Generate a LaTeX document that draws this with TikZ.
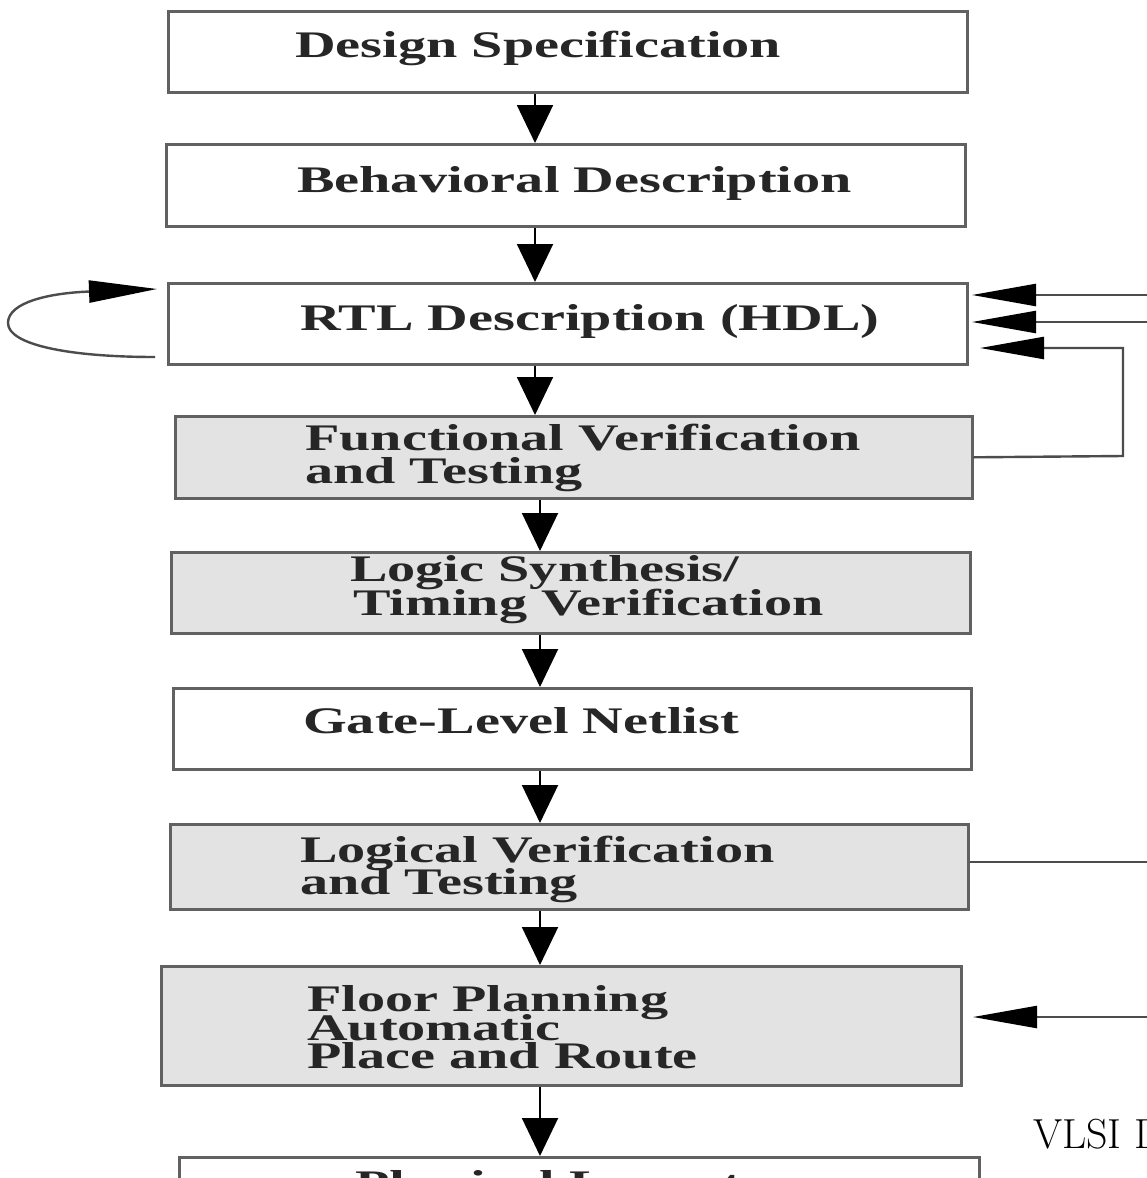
\documentclass[tikz,border=0pt]{standalone}
\usepackage{fontspec}
\newfontfamily\boxfont[FakeStretch=1.5]{Liberation Serif}
\usetikzlibrary{arrows.meta}
\begin{document}
\begin{tikzpicture}[x=1pt,y=-1pt,
  box/.style={draw=black!62,line width=2.6pt,fill=white,inner sep=0pt,anchor=north west},
  graybox/.style={box,fill=black!11},
  lbl/.style={anchor=base west,inner sep=0pt,text=black!85,font=\boxfont\bfseries\fontsize{37.5}{37.5}\selectfont},
  varrow/.style={line width=2pt,-{Triangle[length=38pt,width=36pt]}},
  harrow/.style={draw=black!70,line width=2.4pt,-{Triangle[length=64pt,width=22pt,fill=black,color=black]}},
  hline/.style={draw=black!70,line width=2.4pt}]
\useasboundingbox (0,0) rectangle (1147,1178);
\clip (0,0) rectangle (1147,1178);
\fill[white] (0,0) rectangle (1147,1178);
% boxes
\node[box,minimum width=799pt,minimum height=81pt] (b1) at (167,10) {};
\node[box,minimum width=799pt,minimum height=82pt] (b2) at (165,143) {};
\node[box,minimum width=799pt,minimum height=81pt] (b3) at (167,282) {};
\node[graybox,minimum width=797pt,minimum height=82pt] (b4) at (174,415) {};
\node[graybox,minimum width=799pt,minimum height=81pt] (b5) at (170,551) {};
\node[box,minimum width=798pt,minimum height=81pt] (b6) at (172,687) {};
\node[graybox,minimum width=798pt,minimum height=85pt] (b7) at (169,823) {};
\node[graybox,minimum width=800pt,minimum height=119pt] (b8) at (160,965) {};
\node[box,minimum width=800pt,minimum height=90pt] (b9) at (178,1156) {};
% labels
\node[lbl] (t1) at (295,57) {Design Specification};
\node[lbl] (t2) at (297,192) {Behavioral Description};
\node[lbl] (t3) at (300,330) {RTL Description (HDL)};
\node[lbl] (t4a) at (305,450) {Functional Verification};
\node[lbl] (t4b) at (305,483) {and Testing};
\node[lbl] (t5a) at (350,581) {Logic Synthesis/};
\node[lbl] (t5b) at (353,615) {Timing Verification};
\node[lbl] (t6) at (303,733) {Gate-Level Netlist};
\node[lbl] (t7a) at (300,862) {Logical Verification};
\node[lbl] (t7b) at (300,894) {and Testing};
\node[lbl] (t8a) at (307,1011) {Floor Planning};
\node[lbl] (t8b) at (307,1040) {Automatic};
\node[lbl] (t8c) at (307,1068) {Place and Route};
\node[lbl] (t9) at (355,1196) {Physical Layout};
\node[anchor=base west,inner sep=0pt,font=\fontsize{42}{42}\selectfont] (vl) at (1033,1148) {VLSI Design};
% vertical arrows
\coordinate (ax1) at (535,0);
\coordinate (ax2) at (540,0);
\draw[varrow] (b1.south -| ax1) -- (b2.north -| ax1);
\draw[varrow] (b2.south -| ax1) -- (b3.north -| ax1);
\draw[varrow] (b3.south -| ax1) -- (b4.north -| ax1);
\draw[varrow] (b4.south -| ax2) -- (b5.north -| ax2);
\draw[varrow] (b5.south -| ax2) -- (b6.north -| ax2);
\draw[varrow] (b6.south -| ax2) -- (b7.north -| ax2);
\draw[varrow] (b7.south -| ax2) -- (b8.north -| ax2);
\draw[varrow] (b8.south -| ax2) -- (b9.north -| ax2);
% right side feedback arrows
\coordinate (r1) at (1160,295);
\coordinate (r2) at (1160,322);
\coordinate (r3) at (1123,348);
\coordinate (r4) at (1123,456);
\coordinate (tip1) at (972,295);
\coordinate (tip2) at (972,322);
\coordinate (tip3) at (980,348);
\draw[harrow] (r1) -- (tip1);
\draw[harrow] (r2) -- (tip2);
\draw[harrow] (b4.east) -- (r4) -- (r3) -- (tip3);
\coordinate (r7) at (1160,862);
\draw[hline] (b7.east |- r7) -- (r7);
\coordinate (r8) at (1160,1017);
\coordinate (tip8) at (973,1017);
\draw[harrow] (r8) -- (tip8);
% left self loop
\coordinate (ls) at (155,357);
\coordinate (le) at (157,289);
\draw[draw=black!70,line width=2.4pt,-{Triangle[length=68pt,width=22pt,fill=black,color=black]}]
  (ls) .. controls (70,357) and (8,345) .. (8,323)
       .. controls (8,302) and (50,293) .. (le);
\end{tikzpicture}
\end{document}
